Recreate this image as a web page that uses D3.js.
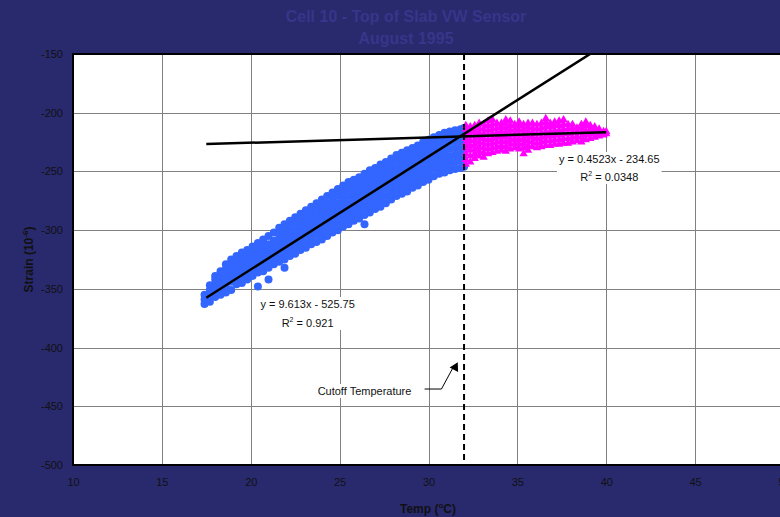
<!DOCTYPE html>
<html>
<head>
<meta charset="utf-8">
<script src="https://cdn.jsdelivr.net/npm/d3@7"></script>
<style>
  body { margin: 0; background: #29296e; overflow: hidden; }
  svg { display: block; font-family: "Liberation Sans", Arial, sans-serif; }
</style>
</head>
<body>
<svg id="chart"></svg>
<script>
// ---- data ----
const titleLines = ['Cell 10 - Top of Slab VW Sensor', 'August 1995'];
const xTicks = [10, 15, 20, 25, 30, 35, 40, 45, 50];
const yTicks = [-150, -200, -250, -300, -350, -400, -450, -500];

// blue circles (below cutoff): [temp, [strain values]]
const blueCols = [
  [17.4, [-363, -359, -355]],
  [17.7, [-361, -356, -351, -347]],
  [18.0, [-357, -352, -347, -342, -339]],
  [18.3, [-355, -350, -345, -340, -335]],
  [18.6, [-353, -348, -343, -338, -333, -329]],
  [18.9, [-351, -344, -339, -334, -329, -325]],
  [19.2, [-346, -341, -336, -331, -326, -322]],
  [19.5, [-345, -339, -334, -329, -324, -319]],
  [19.8, [-342, -337, -332, -327, -322, -317]],
  [20.1, [-339, -334, -329, -324, -319, -314]],
  [20.4, [-348, -336, -331, -326, -321, -316, -311]],
  [20.7, [-335, -329, -324, -319, -314, -308]],
  [21.0, [-342, -332, -327, -322, -317, -312, -305]],
  [21.3, [-329, -324, -319, -314, -309, -302]],
  [21.6, [-327, -322, -317, -312, -307, -302, -298]],
  [21.9, [-332, -325, -320, -315, -310, -305, -300, -295]],
  [22.2, [-322, -317, -312, -307, -302, -297, -292]],
  [22.5, [-320, -315, -310, -305, -300, -294, -289]],
  [22.8, [-317, -312, -307, -302, -297, -291, -286]],
  [23.1, [-315, -310, -304, -299, -294, -289, -283]],
  [23.4, [-312, -307, -302, -296, -291, -286, -280]],
  [23.7, [-310, -304, -299, -293, -288, -282, -277]],
  [24.0, [-308, -302, -296, -291, -285, -279, -274]],
  [24.3, [-305, -299, -294, -288, -282, -277, -271]],
  [24.6, [-302, -297, -291, -285, -279, -273, -268]],
  [24.9, [-300, -294, -288, -283, -277, -271, -265]],
  [25.2, [-297, -292, -286, -280, -274, -268, -262]],
  [25.5, [-295, -289, -283, -277, -271, -265, -259]],
  [25.8, [-292, -286, -280, -275, -269, -263, -257]],
  [26.1, [-290, -284, -278, -272, -266, -260, -255]],
  [26.4, [-295, -287, -281, -275, -269, -263, -257, -252]],
  [26.7, [-285, -279, -273, -267, -261, -255, -249]],
  [27.0, [-282, -276, -270, -264, -258, -252, -247]],
  [27.3, [-280, -274, -268, -262, -256, -250, -244]],
  [27.6, [-277, -271, -265, -259, -253, -247, -242]],
  [27.9, [-274, -268, -262, -256, -250, -244, -239]],
  [28.2, [-271, -265, -259, -253, -247, -241, -236]],
  [28.5, [-269, -263, -257, -251, -245, -239, -234]],
  [28.8, [-267, -261, -255, -249, -243, -237, -232]],
  [29.1, [-264, -258, -252, -246, -240, -234, -230]],
  [29.4, [-262, -256, -250, -244, -238, -232, -228]],
  [29.7, [-259, -253, -247, -241, -235, -229, -225]],
  [30.0, [-257, -251, -245, -239, -233, -227, -223]],
  [30.3, [-254, -248, -242, -236, -230, -225, -221]],
  [30.6, [-252, -246, -240, -234, -228, -223, -219]],
  [30.9, [-251, -245, -239, -233, -227, -221, -217]],
  [31.2, [-249, -243, -237, -231, -225, -220, -216]],
  [31.5, [-248, -242, -236, -230, -224, -219, -215]],
  [31.8, [-247, -241, -235, -229, -223, -218, -214]],
  [32.0, [-246, -240, -234, -228, -222, -217, -213]]
];

// magenta triangles (above cutoff)
const pinkCols = [
  [32.1, [-244, -240, -235, -230, -226, -222, -218, -214, -211]],
  [32.35, [-242, -237, -232, -228, -224, -220, -216, -212]],
  [32.6, [-239, -235, -231, -227, -223, -219, -215, -211]],
  [32.85, [-237, -233, -229, -225, -221, -217, -213, -209]],
  [33.1, [-238, -234, -230, -226, -222, -218, -214, -210]],
  [33.35, [-235, -231, -227, -223, -219, -215, -211, -207]],
  [33.6, [-234, -230, -226, -222, -218, -214, -210, -206]],
  [33.85, [-233, -229, -225, -221, -217, -213, -209]],
  [34.1, [-232, -228, -224, -220, -216, -212, -209]],
  [34.35, [-233, -229, -225, -221, -217, -213, -209, -206]],
  [34.6, [-231, -227, -223, -219, -215, -211, -207]],
  [34.85, [-230, -226, -222, -218, -214, -210]],
  [35.1, [-231, -227, -223, -219, -215, -211, -208]],
  [35.35, [-235, -230, -226, -222, -218, -214, -210]],
  [35.6, [-232, -228, -224, -220, -216, -212, -209]],
  [35.85, [-229, -225, -221, -217, -213, -209]],
  [36.1, [-230, -226, -222, -218, -214, -210]],
  [36.35, [-229, -225, -221, -217, -213, -209]],
  [36.6, [-228, -224, -220, -216, -212, -208, -205]],
  [36.85, [-228, -224, -220, -216, -212, -209]],
  [37.1, [-227, -223, -219, -215, -211, -208]],
  [37.35, [-227, -223, -219, -215, -211, -207]],
  [37.6, [-226, -222, -218, -214, -210, -206]],
  [37.85, [-226, -222, -218, -214, -210]],
  [38.1, [-225, -221, -217, -213, -210]],
  [38.35, [-224, -220, -216, -213]],
  [38.6, [-225, -221, -217, -213, -210]],
  [38.85, [-223, -219, -215, -211, -208]],
  [39.1, [-222, -218, -214, -211]],
  [39.35, [-221, -218, -215, -212]],
  [39.6, [-220, -217, -214]],
  [39.85, [-219, -216]],
  [40.0, [-218, -216]]
];

// linear trend lines: slope, intercept, x range
const trendBlue = { slope: 9.613, intercept: -525.75, x0: 17.5, x1: 40 };
const trendPink = { slope: 0.4523, intercept: -234.65, x0: 17.5, x1: 40 };
const cutoffTemp = 32;

// ---- layout ----
const width = 780, height = 517;
const margin = { top: 54, left: 73 };
const innerW = 711, innerH = 411;

const svg = d3.select('#chart').attr('width', width).attr('height', height);

const xscale = d3.scaleLinear().domain([10, 50]).range([margin.left, margin.left + innerW]);
const yscale = d3.scaleLinear().domain([-500, -150]).range([margin.top + innerH, margin.top]);

// title
svg.append('g').selectAll('text')
  .data(titleLines)
  .join('text')
  .attr('x', 406)
  .attr('y', (d, i) => 22 + i * 22)
  .attr('text-anchor', 'middle')
  .attr('font-size', 16)
  .attr('font-weight', 'bold')
  .attr('fill', '#36368a')
  .text(d => d);

// plot background
svg.append('rect')
  .attr('x', margin.left).attr('y', margin.top)
  .attr('width', innerW).attr('height', innerH)
  .attr('fill', '#fff');

// grid + tick labels (plain hyphen minus like the original)
const xaxis = d3.axisBottom(xscale).tickValues(xTicks).tickSize(-innerH).tickPadding(13).tickFormat(d => String(d));
const yaxis = d3.axisLeft(yscale).tickValues(yTicks).tickSize(-innerW).tickPadding(10).tickFormat(d => String(d));

const xg = svg.append('g').attr('transform', `translate(0, ${margin.top + innerH})`).call(xaxis);
const yg = svg.append('g').attr('transform', `translate(${margin.left}, 0)`).call(yaxis);

[xg, yg].forEach(g => {
  g.select('.domain').remove();
  g.selectAll('.tick line')
    .attr('stroke', '#808080')
    .attr('stroke-width', 1)
    .attr('shape-rendering', 'crispEdges');
  g.selectAll('.tick text')
    .attr('fill', '#111')
    .attr('font-size', 11)
    .attr('font-family', '"Liberation Sans", Arial, sans-serif');
});

// points
const bluePts = blueCols.flatMap(([x, ys]) => ys.map(y => ({ x, y })));
const pinkPts = pinkCols.flatMap(([x, ys]) => ys.map(y => ({ x, y })));

svg.append('g').selectAll('circle')
  .data(bluePts)
  .join('circle')
  .attr('cx', d => xscale(d.x))
  .attr('cy', d => yscale(d.y))
  .attr('r', 4)
  .attr('fill', '#3366ff');

const tri = d3.symbol().type(d3.symbolTriangle).size(30);
svg.append('g').selectAll('path')
  .data(pinkPts)
  .join('path')
  .attr('transform', d => `translate(${xscale(d.x)}, ${yscale(d.y)})`)
  .attr('d', tri)
  .attr('fill', '#ff00ff');

// trend lines, clipped to plot
svg.append('clipPath').attr('id', 'plotclip')
  .append('rect')
  .attr('x', margin.left).attr('y', margin.top)
  .attr('width', innerW).attr('height', innerH);

const line = d3.line().x(d => xscale(d[0])).y(d => yscale(d[1]));
const trends = svg.append('g').attr('clip-path', 'url(#plotclip)');
[trendBlue, trendPink].forEach(t => {
  trends.append('path')
    .attr('d', line([[t.x0, t.slope * t.x0 + t.intercept], [t.x1, t.slope * t.x1 + t.intercept]]))
    .attr('stroke', '#000')
    .attr('stroke-width', 2.5)
    .attr('fill', 'none');
});

// cutoff line
svg.append('line')
  .attr('x1', xscale(cutoffTemp)).attr('x2', xscale(cutoffTemp))
  .attr('y1', yscale(-150)).attr('y2', yscale(-500))
  .attr('stroke', '#000')
  .attr('stroke-width', 2)
  .attr('stroke-dasharray', '6,4');

// plot border
svg.append('rect')
  .attr('x', margin.left).attr('y', margin.top)
  .attr('width', innerW).attr('height', innerH)
  .attr('fill', 'none')
  .attr('stroke', '#000')
  .attr('stroke-width', 2);

// labels with white boxes
function label(lines, cx, y0, dy) {
  const g = svg.append('g');
  const texts = [];
  lines.forEach((parts, i) => {
    const t = g.append('text')
      .attr('x', xscale(cx))
      .attr('y', yscale(y0) + i * dy)
      .attr('text-anchor', 'middle')
      .attr('font-size', 11)
      .attr('fill', '#111');
    let shift = 0;
    parts.forEach(p => {
      const ts = t.append('tspan').text(p.text);
      if (p.sup) {
        ts.attr('dy', -5).attr('font-size', 7);
        shift = 5;
      } else if (shift) {
        ts.attr('dy', shift);
        shift = 0;
      }
    });
    texts.push(t);
  });
  const boxes = texts.map(t => t.node().getBBox());
  const bx0 = d3.min(boxes, b => b.x) - 2, bx1 = d3.max(boxes, b => b.x + b.width) + 2;
  const by0 = d3.min(boxes, b => b.y) - 1, by1 = d3.max(boxes, b => b.y + b.height) + 1;
  g.insert('rect', 'text')
    .attr('x', bx0).attr('y', by0)
    .attr('width', bx1 - bx0).attr('height', by1 - by0)
    .attr('fill', '#fff');
}

label([[{ text: 'y = 9.613x - 525.75' }], [{ text: 'R' }, { text: '2', sup: true }, { text: ' = 0.921' }]], 23.2, -366.3, 19);
label([[{ text: 'y = 0.4523x - 234.65' }], [{ text: 'R' }, { text: '2', sup: true }, { text: ' = 0.0348' }]], 40.17, -242.8, 18);
label([[{ text: 'Cutoff Temperature' }]], 26.4, -440.4, 0);

// leader arrow for cutoff label
const leader = [[29.78, -435.3], [30.73, -435.3], [31.4, -416.5]];
svg.append('path')
  .attr('d', line(leader))
  .attr('stroke', '#000')
  .attr('stroke-width', 1)
  .attr('fill', 'none');
const tip = [xscale(31.5), yscale(-414.2)];
svg.append('path')
  .attr('d', d3.symbol().type(d3.symbolTriangle).size(40)())
  .attr('transform', `translate(${tip[0]}, ${tip[1] + 3}) rotate(28)`)
  .attr('fill', '#000');

// axis titles
const xt = svg.append('text')
  .attr('x', 428).attr('y', 513)
  .attr('text-anchor', 'middle')
  .attr('font-size', 12).attr('font-weight', 'bold').attr('fill', '#111');
xt.append('tspan').text('Temp (');
xt.append('tspan').attr('dy', -5).attr('font-size', 8).text('o');
xt.append('tspan').attr('dy', 5).text('C)');

const yt = svg.append('text')
  .attr('transform', `translate(33, ${margin.top + innerH / 2}) rotate(-90)`)
  .attr('text-anchor', 'middle')
  .attr('font-size', 12).attr('font-weight', 'bold').attr('fill', '#111');
yt.append('tspan').text('Strain (10');
yt.append('tspan').attr('dy', -5).attr('font-size', 8).text('-6');
yt.append('tspan').attr('dy', 5).text(')');
</script>
</body>
</html>
